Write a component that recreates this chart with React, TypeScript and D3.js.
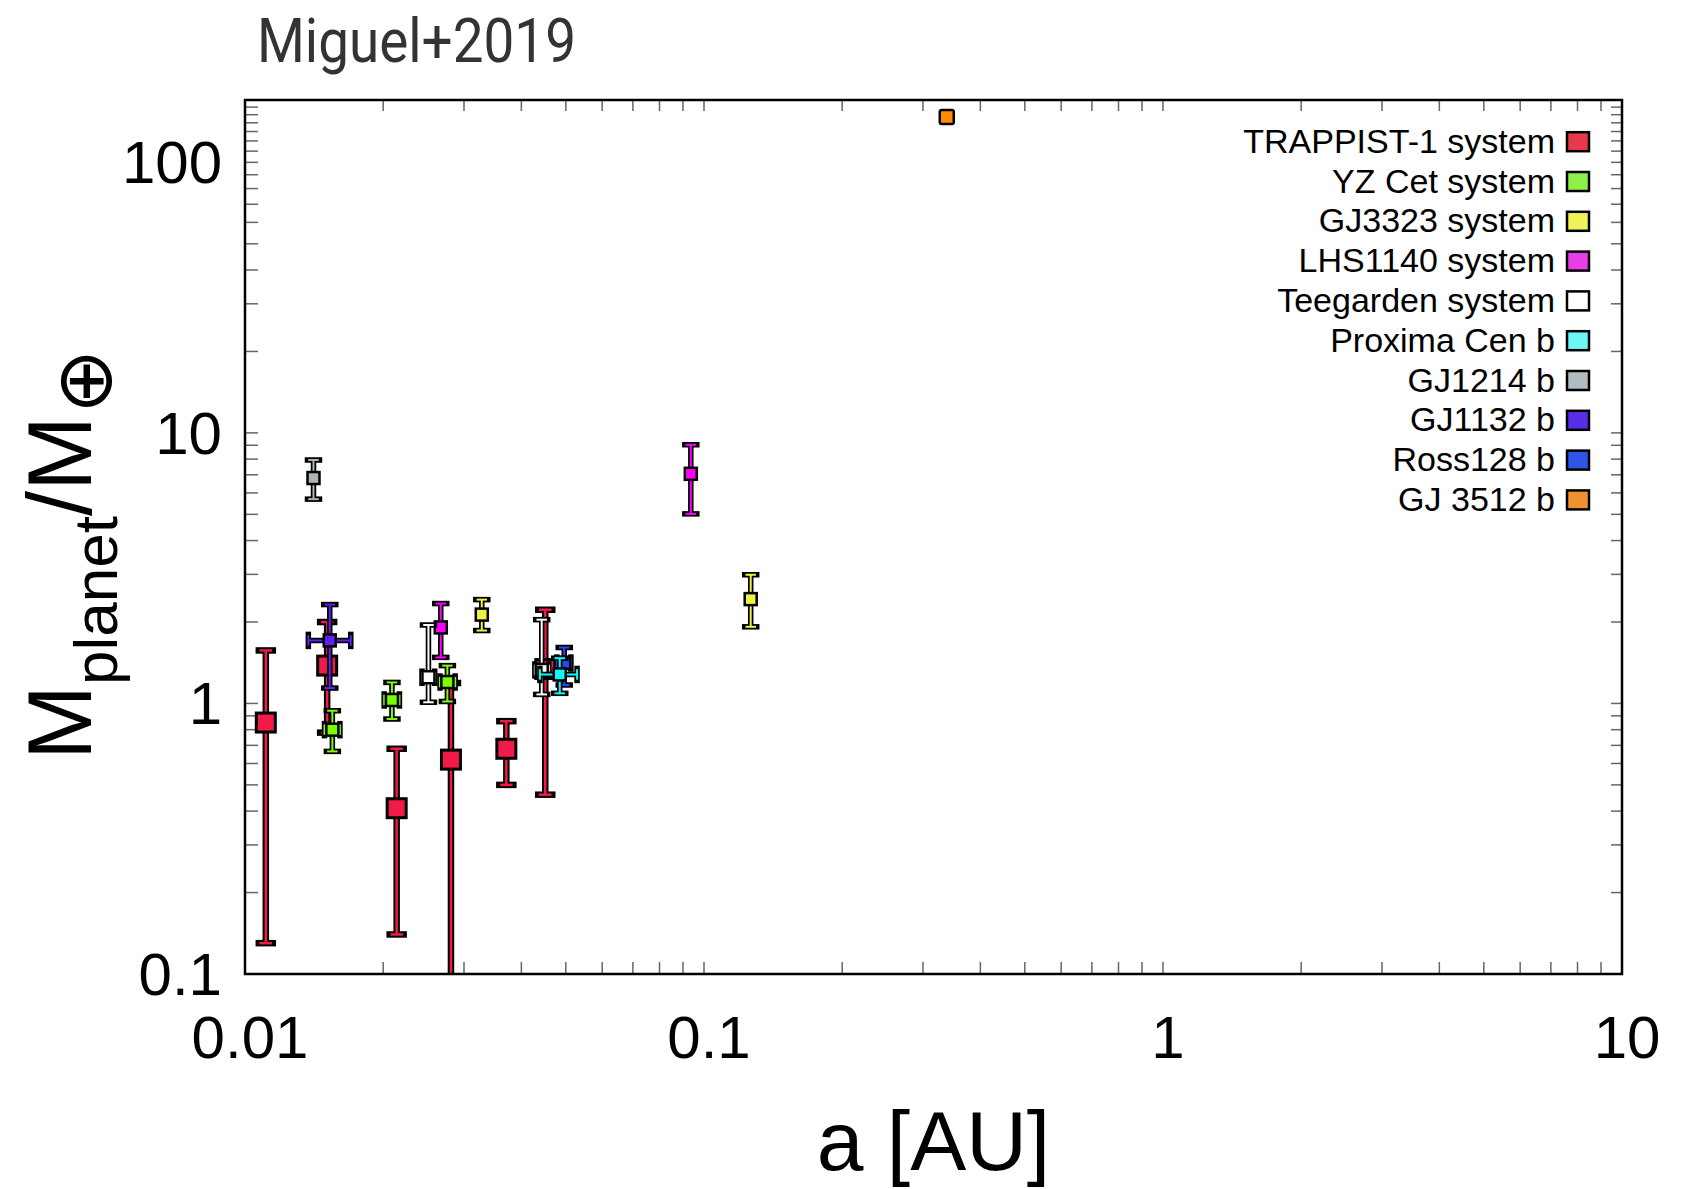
import React, { useEffect, useRef } from "react";
import * as d3 from "d3";

const seriesNames = [
  "TRAPPIST-1 system",
  "YZ Cet system",
  "GJ3323 system",
  "LHS1140 system",
  "Teegarden system",
  "Proxima Cen b",
  "GJ1214 b",
  "GJ1132 b",
  "Ross128 b",
  "GJ 3512 b",
];
const legendColors = [
  "#e63a4c",
  "#8ff04a",
  "#eff35a",
  "#e83ee8",
  "#ffffff",
  "#6ef6f6",
  "#b2bbbf",
  "#5a2ee6",
  "#2e55e8",
  "#ef912e",
];
const markerColors = [
  "#f21a48",
  "#7cfc00",
  "#eef244",
  "#ff00ff",
  "#ffffff",
  "#00ffff",
  "#aab4b8",
  "#6020f0",
  "#2848f0",
  "#ff8c00",
];

// one entry per planet, listed in drawing order
const planetSeries = [0, 0, 0, 0, 0, 0, 1, 1, 1, 2, 2, 3, 3, 4, 4, 6, 7, 8, 5, 9];
const planetA = [0.0111, 0.0151, 0.0214, 0.0281, 0.0371, 0.0451, 0.0155, 0.0209, 0.0276, 0.0328, 0.1264, 0.0267, 0.0936, 0.0251, 0.0443, 0.0141, 0.0153, 0.0496, 0.0485, 0.338];
const planetM = [0.85, 1.38, 0.41, 0.62, 0.68, 1.34, 0.8, 1.03, 1.2, 2.13, 2.43, 1.91, 7.06, 1.25, 1.33, 6.81, 1.71, 1.41, 1.28, 147];
const planetMLow = [0.13, 0.78, 0.14, 0.04, 0.5, 0.46, 0.665, 0.876, 1.017, 1.86, 1.92, 1.48, 5.02, 1.01, 1.08, 5.69, 1.14, 1.17, 1.09, null];
const planetMHigh = [1.57, 2.0, 0.68, 1.19, 0.86, 2.22, 0.94, 1.196, 1.38, 2.42, 2.99, 2.34, 9.04, 1.95, 2.04, 7.94, 2.32, 1.61, 1.47, null];
const planetALow = [null, null, null, null, null, null, 0.0149, 0.0201, 0.0266, null, null, null, null, 0.0243, 0.0428, null, 0.01374, 0.0478, 0.0439, null];
const planetAHigh = [null, null, null, null, null, null, 0.0161, 0.0217, 0.0287, null, null, null, null, 0.0259, 0.0459, null, 0.017, 0.0513, 0.0529, null];

const xTickValues = [0.01, 0.1, 1, 10];
const xTickLabels = ["0.01", "0.1", "1", "10"];
const yTickValues = [0.1, 1, 10, 100];
const yTickLabels = ["0.1", "1", "10", "100"];
const yExtraTicks = [110, 120, 130, 140, 150, 160];

const W = 1687,
  H = 1189;
const left = 245,
  right = 1622,
  top = 100,
  bottom = 974;

const App = () => {
  const ref = useRef(null);

  useEffect(() => {
    const svg = d3.select(ref.current);
    svg.selectAll("*").remove();

    const x = d3.scaleLog().domain([0.01, 10]).range([left, right]);
    const y = d3.scaleLog().domain([0.1, 170]).range([bottom, top]);

    svg.append("rect").attr("width", W).attr("height", H).attr("fill", "#fff");

    // title
    svg
      .append("text")
      .attr("x", 257)
      .attr("y", 62)
      .attr("font-family", "Roboto, sans-serif")
      .attr("font-size", 62)
      .attr("fill", "#333")
      .attr("textLength", 319)
      .attr("lengthAdjust", "spacingAndGlyphs")
      .text("Miguel+2019");

    // ticks
    const tickG = svg.append("g").attr("stroke", "#666").attr("stroke-width", 1.5);
    const xt = x.ticks();
    xt.forEach((v) => {
      const px = x(v);
      tickG.append("line").attr("x1", px).attr("x2", px).attr("y1", bottom).attr("y2", bottom - 12);
      tickG.append("line").attr("x1", px).attr("x2", px).attr("y1", top).attr("y2", top + 11);
    });
    const yt = y.ticks().concat(yExtraTicks);
    yt.forEach((v) => {
      const py = y(v);
      tickG.append("line").attr("x1", left).attr("x2", left + 13).attr("y1", py).attr("y2", py);
      tickG.append("line").attr("x1", right).attr("x2", right - 11).attr("y1", py).attr("y2", py);
    });

    // tick labels
    xTickValues.forEach((v, i) => {
      svg
        .append("text")
        .attr("x", x(v) + 5)
        .attr("y", 1058)
        .attr("text-anchor", "middle")
        .attr("font-family", "Liberation Sans, Arial, sans-serif")
        .attr("font-size", 60)
        .text(xTickLabels[i]);
    });
    yTickValues.forEach((v, i) => {
      svg
        .append("text")
        .attr("x", 222)
        .attr("y", y(v) + 21)
        .attr("text-anchor", "end")
        .attr("font-family", "Liberation Sans, Arial, sans-serif")
        .attr("font-size", 60)
        .text(yTickLabels[i]);
    });

    // axis titles
    svg
      .append("text")
      .attr("x", (left + right) / 2)
      .attr("y", 1170)
      .attr("text-anchor", "middle")
      .attr("font-family", "Liberation Sans, Arial, sans-serif")
      .attr("font-size", 84)
      .text("a [AU]");

    const yt2 = svg
      .append("text")
      .attr("transform", "translate(91,760) rotate(-90)")
      .attr("font-family", "Liberation Sans, DejaVu Sans, sans-serif")
      .attr("font-size", 90);
    yt2.append("tspan").text("M");
    yt2.append("tspan").attr("font-size", 62).attr("dy", 26).text("planet");
    yt2.append("tspan").attr("dy", -26).text("/M");
    yt2
      .append("tspan")
      .attr("font-size", 78)
      .attr("font-family", "DejaVu Sans, sans-serif")
      .attr("dx", 2)
      .attr("dy", 20)
      .text("\u2295");

    // points
    svg
      .append("clipPath")
      .attr("id", "plotclip")
      .append("rect")
      .attr("x", left)
      .attr("y", top)
      .attr("width", right - left)
      .attr("height", bottom - top);

    const pts = svg.append("g").attr("clip-path", "url(#plotclip)");

    planetA.forEach((a, i) => {
      const s = planetSeries[i];
      const big = s === 0;
      const size = big ? 19 : s === 9 ? 14 : 12;
      const wb = big ? 6.5 : 5.5;
      const wc = big ? 2.5 : 2;
      const cap = big ? 14 : 12;
      const col = markerColors[s];
      const px = x(a),
        py = y(planetM[i]);
      const g = pts.append("g");

      const segs = [];
      if (planetMLow[i] != null) {
        const y1 = y(planetMLow[i]),
          y2 = y(planetMHigh[i]);
        segs.push([px, y1, px, y2, 0]);
        segs.push([px - cap / 2, y1, px + cap / 2, y1, 1]);
        segs.push([px - cap / 2, y2, px + cap / 2, y2, 1]);
      }
      if (planetALow[i] != null) {
        const x1 = x(planetALow[i]),
          x2 = x(planetAHigh[i]);
        segs.push([x1, py, x2, py, 0]);
        segs.push([x1, py - cap / 2, x1, py + cap / 2, 1]);
        segs.push([x2, py - cap / 2, x2, py + cap / 2, 1]);
      }
      segs.forEach((d) => {
        g.append("line")
          .attr("x1", d[0])
          .attr("y1", d[1])
          .attr("x2", d[2])
          .attr("y2", d[3])
          .attr("stroke", "#000")
          .attr("stroke-width", wb)
          .attr("stroke-linecap", d[4] ? "square" : "butt");
      });
      segs.forEach((d) => {
        const sh = d[4] ? (wb - wc) / 2 : 0;
        const hor = d[1] === d[3];
        g.append("line")
          .attr("x1", hor ? d[0] + sh : d[0])
          .attr("y1", hor ? d[1] : d[1] + sh)
          .attr("x2", hor ? d[2] - sh : d[2])
          .attr("y2", hor ? d[3] : d[3] - sh)
          .attr("stroke", col)
          .attr("stroke-width", wc)
          .attr("stroke-linecap", d[4] ? "square" : "butt");
      });
      g.append("rect")
        .attr("x", px - size / 2)
        .attr("y", py - size / 2)
        .attr("width", size)
        .attr("height", size)
        .attr("rx", s === 9 ? 2 : 0)
        .attr("fill", col)
        .attr("stroke", "#000")
        .attr("stroke-width", big ? 3 : 2.5);
    });

    // frame
    svg
      .append("rect")
      .attr("x", left)
      .attr("y", top)
      .attr("width", right - left)
      .attr("height", bottom - top)
      .attr("fill", "none")
      .attr("stroke", "#000")
      .attr("stroke-width", 2.5);

    // legend
    const lg = svg.append("g");
    seriesNames.forEach((name, i) => {
      const cy = 141.7 + i * 39.8;
      lg.append("text")
        .attr("x", 1555)
        .attr("y", cy + 11)
        .attr("text-anchor", "end")
        .attr("font-family", "Liberation Sans, Arial, sans-serif")
        .attr("font-size", 34)
        .text(name);
      lg.append("rect")
        .attr("x", 1567)
        .attr("y", cy - 9.5)
        .attr("width", 22)
        .attr("height", 19)
        .attr("fill", legendColors[i])
        .attr("stroke", "#000")
        .attr("stroke-width", 2.5);
    });
  }, []);

  return (
    <svg
      ref={ref}
      width={W}
      height={H}
      style={{ position: "absolute", left: 0, top: 0 }}
    ></svg>
  );
};

export default App;
